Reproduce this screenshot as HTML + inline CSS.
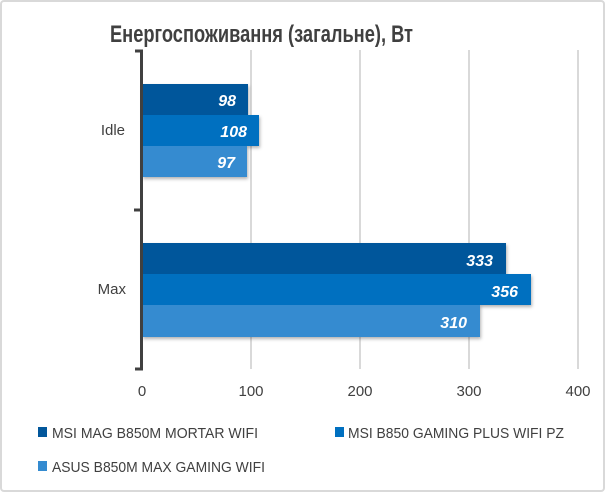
<!DOCTYPE html>
<html><head><meta charset="utf-8"><style>
html,body{margin:0;padding:0;background:#fff}
svg{display:block}
text{font-family:"Liberation Sans",sans-serif}
</style></head><body>
<svg width="605" height="492" viewBox="0 0 605 492" xmlns="http://www.w3.org/2000/svg">
<defs><filter id="sh" x="-5%" y="-20%" width="110%" height="150%"><feDropShadow dx="1" dy="2" stdDeviation="1.5" flood-color="#000" flood-opacity="0.3"/></filter></defs>
<rect x="1" y="1" width="603" height="490" rx="3" fill="#fff" stroke="#d9d9d9" stroke-width="2"/>
<text x="110" y="42" font-size="24" font-weight="bold" fill="#404040" textLength="303" lengthAdjust="spacingAndGlyphs">Енергоспоживання (загальне), Вт</text>
<g stroke="#d9d9d9" stroke-width="2">
<line x1="251" y1="50" x2="251" y2="369"/><line x1="360" y1="50" x2="360" y2="369"/>
<line x1="469" y1="50" x2="469" y2="369"/><line x1="578" y1="50" x2="578" y2="369"/>
</g>
<g filter="url(#sh)">
<rect x="142" y="84" width="106" height="31" fill="#02579b"/>
<rect x="142" y="243" width="364" height="31" fill="#02579b"/>
<rect x="142" y="115" width="117" height="31" fill="#0070c0"/>
<rect x="142" y="274" width="389" height="31" fill="#0070c0"/>
<rect x="142" y="146" width="105" height="31" fill="#348bd0"/>
<rect x="142" y="305" width="338" height="32" fill="#348bd0"/>
</g>
<g font-size="16" font-weight="bold" font-style="italic" fill="#fff" text-anchor="end">
<text x="236" y="106">98</text><text x="247" y="137">108</text><text x="235" y="168">97</text>
<text x="493" y="266">333</text><text x="518" y="297">356</text><text x="467" y="328">310</text>
</g>
<g stroke="#404040" stroke-width="3" fill="none">
<polyline points="135,51 141.5,51 141.5,369 135,369"/>
<line x1="134" y1="210" x2="141" y2="210"/>
</g>
<g font-size="15" fill="#404040">
<text x="125" y="135" text-anchor="end">Idle</text>
<text x="126" y="294" text-anchor="end">Max</text>
<text x="142" y="396" text-anchor="middle">0</text>
<text x="251" y="396" text-anchor="middle">100</text>
<text x="360" y="396" text-anchor="middle">200</text>
<text x="469" y="396" text-anchor="middle">300</text>
<text x="578" y="396" text-anchor="middle">400</text>
<rect x="38" y="427" width="9" height="10" fill="#02579b"/>
<text x="52" y="438" textLength="206" lengthAdjust="spacingAndGlyphs">MSI MAG B850M MORTAR WIFI</text>
<rect x="335" y="427" width="9" height="10" fill="#0070c0"/>
<text x="348" y="438" textLength="216" lengthAdjust="spacingAndGlyphs">MSI B850 GAMING PLUS WIFI PZ</text>
<rect x="38" y="461" width="9" height="10" fill="#348bd0"/>
<text x="52" y="472" textLength="213" lengthAdjust="spacingAndGlyphs">ASUS B850M MAX GAMING WIFI</text>
</g>
</svg>
</body></html>
